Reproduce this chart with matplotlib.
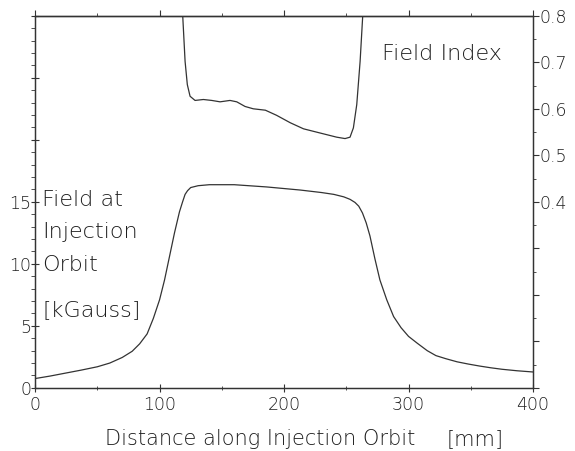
import matplotlib.pyplot as plt
from matplotlib.ticker import MultipleLocator

plt.rcParams['font.family'] = ['DejaVu Sans']

# Field at injection orbit [kGauss] vs distance [mm]
dist_field = [0, 12, 25, 37, 50, 60, 70, 78, 84, 90, 95, 100, 104, 108, 112, 116, 118.5,
              120.5, 122.5, 125, 131, 140, 160, 186, 213, 230, 240, 248, 253, 257, 260,
              263, 266, 269, 273, 277, 282.5, 288, 294, 300, 307, 315, 322, 330, 339, 348,
              357, 366, 375, 387, 400]
field = [0.75, 0.95, 1.2, 1.43, 1.7, 2.0, 2.45, 2.95, 3.55, 4.35, 5.6, 7.1, 8.7, 10.6, 12.5,
         14.2, 15.0, 15.6, 15.9, 16.15, 16.3, 16.38, 16.38, 16.2, 15.95, 15.75, 15.6, 15.4,
         15.2, 14.95, 14.65, 14.1, 13.3, 12.25, 10.4, 8.7, 7.1, 5.75, 4.85, 4.15, 3.6, 3.0,
         2.6, 2.35, 2.1, 1.92, 1.76, 1.62, 1.5, 1.38, 1.28]

# Field index vs distance [mm]
dist_index = [118.6, 120.5, 122.3, 124.5, 128.5, 135.2, 141.9, 148.6, 156.6, 162, 168.7,
              175.3, 185, 194, 205, 215.6, 228.9, 242.3, 249, 253, 255.7, 258.4, 261.1,
              263.2]
field_index = [0.80, 0.702, 0.652, 0.627, 0.618, 0.620, 0.618, 0.615, 0.618, 0.615, 0.605,
               0.600, 0.597, 0.586, 0.570, 0.557, 0.548, 0.539, 0.536, 0.539, 0.559, 0.609,
               0.702, 0.80]

left_labels = ['0', '5', '10', '15', '', '', '']
right_labels = ['', '', '', '', '0.4', '0.5', '0.6', '0.7', '0.8']

ink = '#333333'
txt = dict(color='#1e1e1e', fontsize=16, fontweight=200)

fig = plt.figure(figsize=(5.75, 4.51), dpi=100)
ax = fig.add_axes([0.061, 0.140, 0.866, 0.825])
ax2 = ax.twinx()

ax.plot(dist_field, field, color=ink, lw=0.9)
ax2.plot(dist_index, field_index, color=ink, lw=0.9)

ax.set_xlim(0, 400)
ax.set_ylim(0, 30)
ax2.set_ylim(0, 0.8)

ax.xaxis.set_major_locator(MultipleLocator(100))
ax.xaxis.set_minor_locator(MultipleLocator(50))
ax.set_yticks(range(0, 31, 5))
ax.set_yticklabels(left_labels)
ax.yaxis.set_minor_locator(MultipleLocator(1))
ax2.set_yticks([i / 10 for i in range(9)])
ax2.set_yticklabels(right_labels)
ax2.yaxis.set_minor_locator(MultipleLocator(0.05))

top = ax.secondary_xaxis('top')
top.xaxis.set_major_locator(MultipleLocator(100))
top.xaxis.set_minor_locator(MultipleLocator(50))
top.tick_params(which='both', direction='out', colors=ink, labeltop=False)
top.tick_params(which='major', length=4)
top.tick_params(which='minor', length=2.5)

for a in (ax, ax2, top):
    for s in a.spines.values():
        s.set_color(ink)
        s.set_linewidth(0.9)

ax.tick_params(axis='x', which='both', direction='inout', colors=ink, labelsize=12.5, pad=3,
               labelcolor='#1e1e1e')
ax.tick_params(axis='x', which='major', length=6)
ax.tick_params(axis='x', which='minor', length=3)
ax.tick_params(axis='y', which='major', direction='inout', length=5.5, colors=ink,
               labelsize=12.5, pad=0, labelcolor='#1e1e1e')
ax.tick_params(axis='y', which='minor', direction='out', length=3, colors=ink)
ax2.tick_params(axis='y', which='both', direction='out', colors=ink, labelsize=12.5, pad=1,
                labelcolor='#1e1e1e')
ax2.tick_params(axis='y', which='major', length=4)
ax2.tick_params(axis='y', which='minor', length=2.5)

for lab in ax.get_xticklabels() + ax.get_yticklabels() + ax2.get_yticklabels():
    lab.set_fontweight(200)

ax.text(0.014, 0.489, 'Field at', transform=ax.transAxes, va='baseline', **txt)
ax.text(0.014, 0.403, 'Injection', transform=ax.transAxes, va='baseline', **txt)
ax.text(0.014, 0.315, 'Orbit', transform=ax.transAxes, va='baseline', **txt)
ax.text(0.014, 0.194, '[kGauss]', transform=ax.transAxes, va='baseline', **txt)
ax.text(0.697, 0.882, 'Field Index', transform=ax.transAxes, va='baseline', **txt)

lbl = dict(txt, fontsize=15)
fig.text(260 / 575, 1 - 445 / 451, 'Distance along Injection Orbit', ha='center',
         va='baseline', **lbl)
fig.text(475 / 575, 1 - 445 / 451, '[mm]', ha='center', va='baseline', **lbl)

fig.savefig('out.png', dpi=100, facecolor='white')
